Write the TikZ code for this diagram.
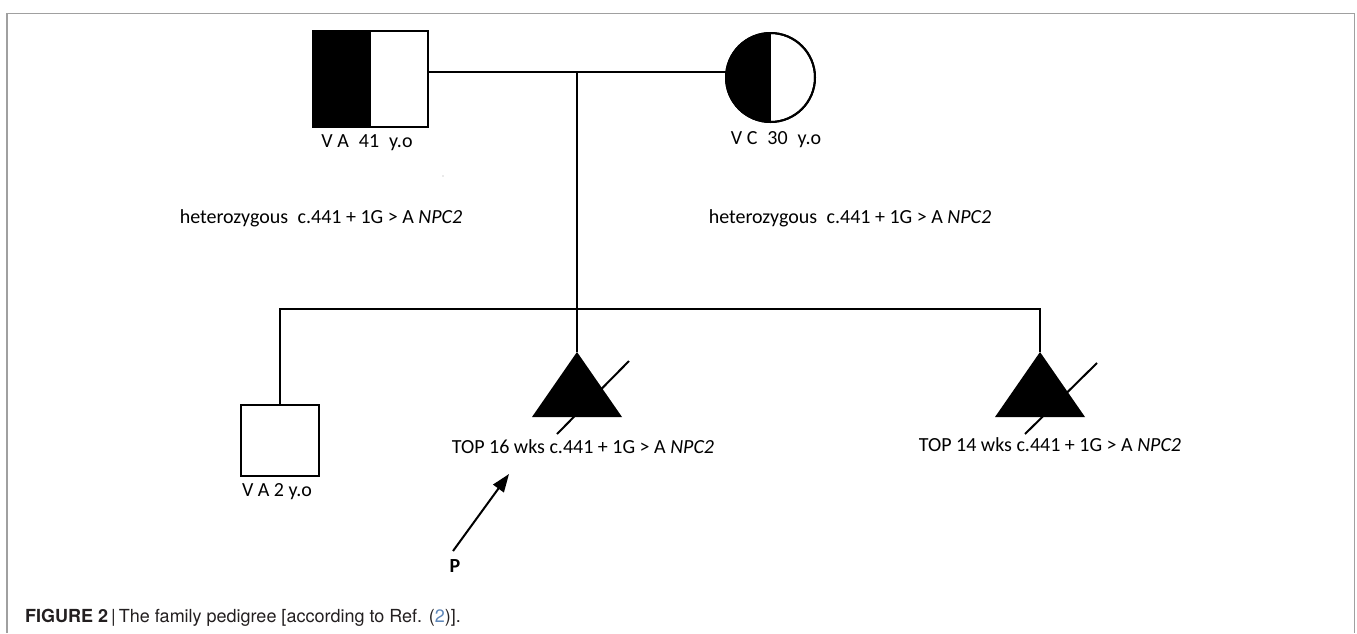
\documentclass[tikz,border=0pt]{standalone}
\usepackage{fontspec}
\setmainfont{Carlito}
\newfontfamily\capfont{TeX Gyre Heros}
\usetikzlibrary{arrows.meta}
\definecolor{framegray}{RGB}{160,160,160}
\definecolor{captext}{RGB}{35,31,32}
\definecolor{linkblue}{RGB}{95,135,185}
\tikzset{
  person/.style={draw, line width=2pt, inner sep=0pt, outer sep=0pt},
  lbl/.style={font=\fontsize{20}{22}\selectfont, inner sep=0pt, text=black},
  conn/.style={line width=2pt},
}
\begin{document}
\begin{tikzpicture}[x=1pt,y=-1pt]
\useasboundingbox (0,0) rectangle (1357,633);
% frame
\draw[framegray, line width=1.6pt] (7,633) -- (7,13.5) -- (1354.5,13.5) -- (1354.5,633);
% parents
\node[person, minimum width=115pt, minimum height=96pt] (father) at (370.5,79) {};
\fill (father.north west) rectangle (father.south);
\draw[line width=2pt] (father.north west) rectangle (father.south east);
\node[person, circle, minimum size=89pt] (mother) at (770.5,77.5) {};
\begin{scope}
  \clip (720,25) rectangle (mother.south);
  \fill (mother.center) circle[radius=44.5];
\end{scope}
\draw[line width=2pt] (mother.center) circle[radius=44.5];
\draw[line width=1.2pt] (mother.north) -- (mother.south);
\node[lbl] (flab) at (367,143) {V A\hspace{0.5em}41\hspace{0.5em}y.o};
\node[lbl] (mlab) at (776,140) {V C\hspace{0.5em}30\hspace{0.5em}y.o};
\fill[gray!70] (443,176) circle[radius=0.7];
% carrier texts
\node[lbl] (hetl) at (321,218) {heterozygous\hspace{0.25em} c.441 + 1G > A \textit{NPC2}};
\node[lbl] (hetr) at (850,218) {heterozygous\hspace{0.25em} c.441 + 1G > A \textit{NPC2}};
% marriage and descent
\coordinate (m) at (577,72);
\coordinate (sib) at (577,309);
\draw[conn] (father.east |- m) -- (mother.west |- m);
% children
\node[person, minimum width=78pt, minimum height=71pt] (son) at (280,440.5) {};
\node[lbl] (slab) at (277,492) {V A 2 y.o};
\coordinate (t1) at (577,352);
\coordinate (t2) at (1040,352);
\fill (t1) -- (532,417) -- (622,417) -- cycle;
\fill (t2) -- (995,417) -- (1085,417) -- cycle;
\draw[conn] (m) -- (t1);
\draw[conn] (son.north) -- (son.north |- sib) -- (t2 |- sib) -- (t2);
\coordinate (s1a) at (557,434);
\coordinate (s1b) at (629,361);
\coordinate (s2a) at (1025,434);
\coordinate (s2b) at (1097,363);
\draw[conn] (s1a) -- (s1b);
\draw[conn] (s2a) -- (s2b);
\node[lbl] (top16) at (583,447) {TOP 16 wks c.441 + 1G > A \textit{NPC2}};
\node[lbl] (top14) at (1050,445) {TOP 14 wks c.441 + 1G > A \textit{NPC2}};
% proband arrow
\coordinate (ptail) at (453,551);
\coordinate (phead) at (509,474);
\draw[conn, -{Triangle[length=18pt,width=13pt]}] (ptail) -- (phead);
\node[lbl, font=\fontsize{20}{22}\selectfont\bfseries] (P) at (455,566) {P};
% caption
\node[anchor=west, inner sep=0pt, text=captext, font=\capfont\fontsize{18}{20}\selectfont] (cap) at (25,618)
  {\textbf{FIGURE 2}\,|\,The family pedigree [according to Ref. (\textcolor{linkblue}{2})].};
\end{tikzpicture}
\end{document}
